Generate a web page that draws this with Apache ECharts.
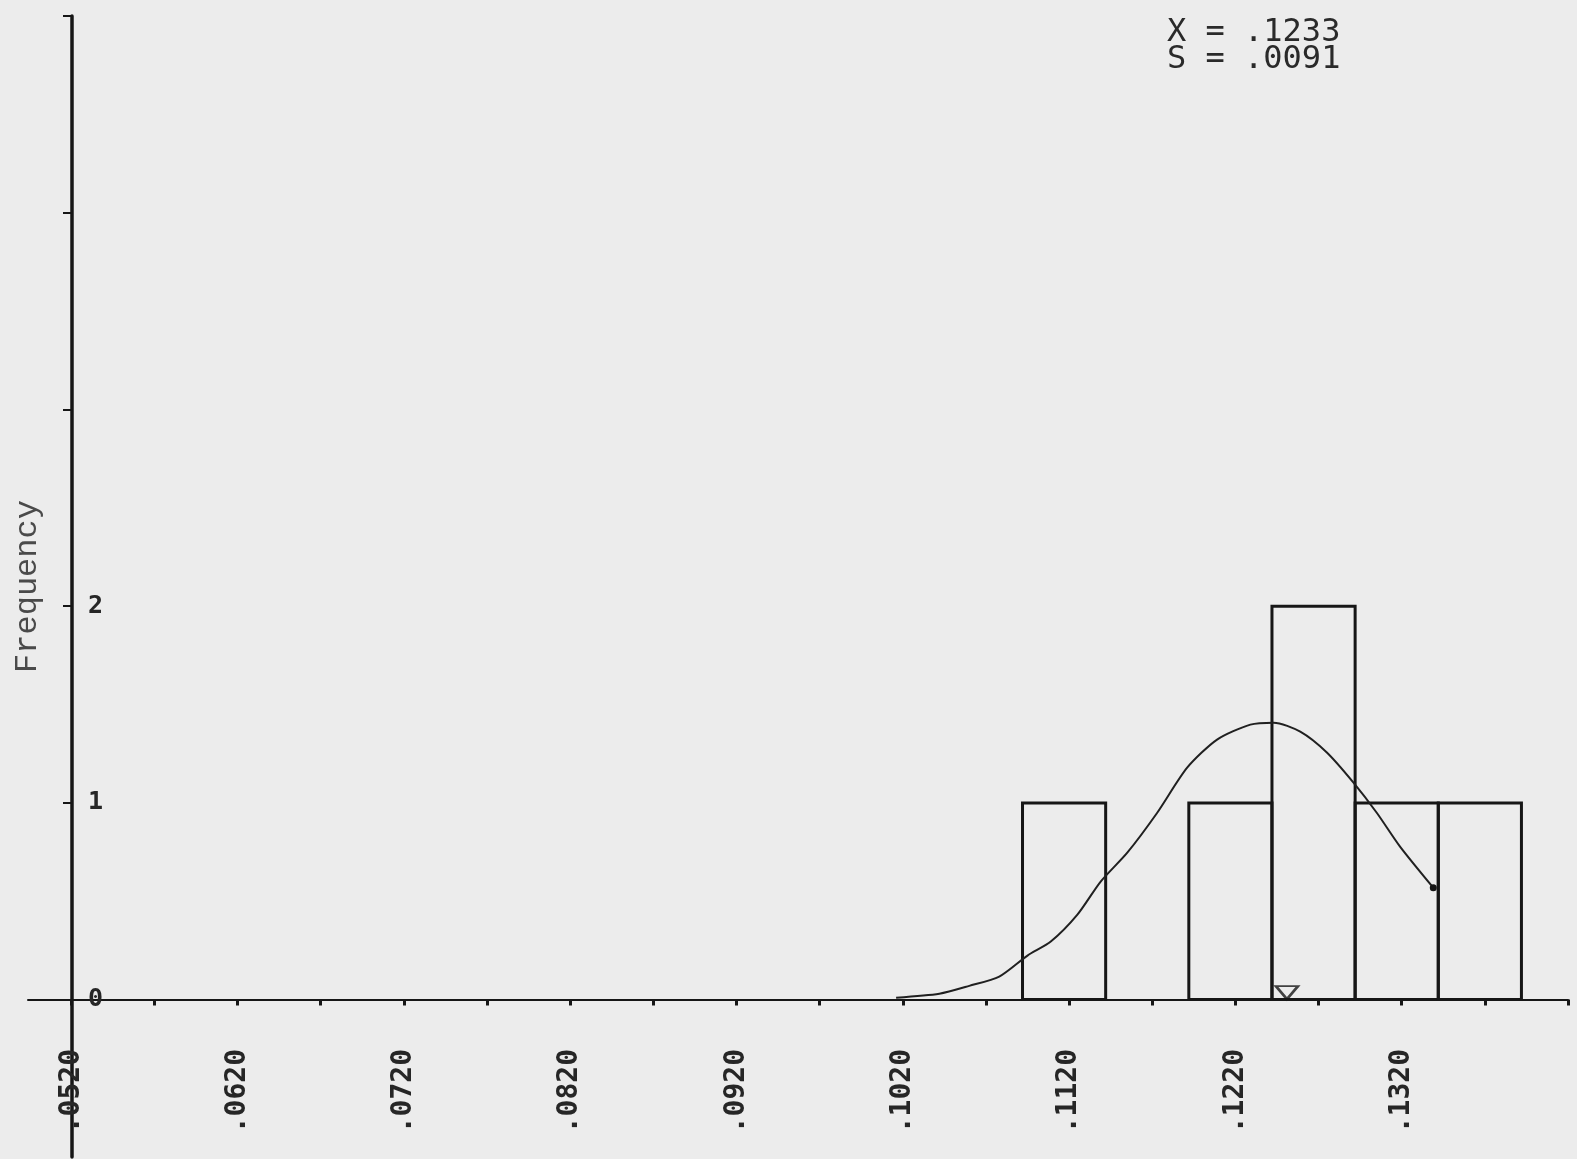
<!DOCTYPE html>
<html>
<head>
<meta charset="utf-8">
<title>Frequency histogram</title>
<script src="https://cdn.jsdelivr.net/npm/echarts@6/dist/echarts.min.js"></script>
<style>
  html, body { margin: 0; padding: 0; background: #ececec; }
  #chart { width: 1577px; height: 1159px; }
</style>
</head>
<body>
<div id="chart"></div>
<script>
// Histogram bins: lower edge of each bin, bin width and counts
const binStarts = [0.1092, 0.1192, 0.1242, 0.1292, 0.1342];
const binWidth = 0.005;
const binCounts = [1, 1, 2, 1, 1];

// Fitted normal curve, sampled along the measurement axis
const curveX = [0.1016, 0.1042, 0.1060, 0.1078, 0.1095, 0.1109, 0.1125, 0.1139, 0.1155, 0.1173,
                0.1191, 0.1209, 0.1229, 0.1243, 0.1259, 0.1275, 0.1291, 0.1305, 0.1319, 0.1339];
const curveY = [0.01, 0.03, 0.07, 0.117, 0.224, 0.295, 0.432, 0.600, 0.747, 0.950,
                1.179, 1.322, 1.398, 1.408, 1.362, 1.256, 1.103, 0.950, 0.778, 0.569];

// Mean marker position on the baseline
const meanMarkerX = 0.1251;

// Axis ticks and labels
const xTickValues = [0.052, 0.057, 0.062, 0.067, 0.072, 0.077, 0.082, 0.087, 0.092, 0.097,
                     0.102, 0.107, 0.112, 0.117, 0.122, 0.127, 0.132, 0.137, 0.142];
const xLabelValues = [0.052, 0.062, 0.072, 0.082, 0.092, 0.102, 0.112, 0.122, 0.132];
const yTickValues = [1, 2, 3, 4, 5];
const yLabelValues = [0, 1, 2];

// Summary statistics
const statLines = ['X = .1233', 'S = .0091'];

const ink = '#161616';
const mono = '"DejaVu Sans Mono", "Liberation Mono", monospace';

const chart = echarts.init(document.getElementById('chart'), null, { renderer: 'canvas' });

const histData = binStarts.map((s, i) => [s, s + binWidth, binCounts[i]]);
const curveData = curveX.map((x, i) => {
  if (i === curveX.length - 1) {
    return { value: [x, curveY[i]], symbol: 'circle', symbolSize: 7 };
  }
  return { value: [x, curveY[i]], symbol: 'none' };
});

chart.setOption({
  backgroundColor: '#ececec',
  animation: false,
  title: {
    text: statLines.join('\n'),
    left: 1162,
    top: 14,
    textStyle: { fontFamily: mono, fontSize: 32, fontWeight: 'normal', color: '#2a2a2a', lineHeight: 27 }
  },
  grid: { left: 28, right: 9, top: 16, bottom: 2, containLabel: false, outerBoundsMode: 'none' },
  xAxis: {
    type: 'value',
    min: 0.0494,
    max: 0.142,
    axisLine: { show: true, onZero: true, lineStyle: { color: ink, width: 2 } },
    axisTick: { show: true, customValues: xTickValues, length: 6, lineStyle: { color: ink, width: 3 } },
    axisLabel: {
      show: true,
      customValues: xLabelValues,
      rotate: 90,
      margin: -108,
      fontFamily: mono,
      fontSize: 28,
      fontWeight: 'bold',
      color: '#262626',
      formatter: v => v.toFixed(4).replace(/^0/, '')
    },
    splitLine: { show: false }
  },
  yAxis: {
    type: 'value',
    min: -0.8,
    max: 5,
    offset: -44,
    name: 'Frequency',
    nameLocation: 'middle',
    nameRotate: 90,
    nameGap: 28,
    nameTextStyle: { fontFamily: '"Liberation Mono", monospace', fontSize: 32, color: '#4a4a4a' },
    axisLine: { show: true, onZero: false, lineStyle: { color: ink, width: 3.5 } },
    axisTick: { show: true, customValues: yTickValues, length: 9, lineStyle: { color: ink, width: 2 } },
    axisLabel: {
      show: true,
      customValues: yLabelValues,
      inside: true,
      margin: 16,
      fontFamily: mono,
      fontSize: 25,
      fontWeight: 'bold',
      color: '#262626',
      padding: [0, 0, 12, 0]
    },
    splitLine: { show: false }
  },
  series: [
    {
      type: 'custom',
      name: 'Histogram',
      data: histData,
      encode: { x: [0, 1], y: 2 },
      renderItem: (params, api) => {
        const p0 = api.coord([api.value(0), api.value(2)]);
        const p1 = api.coord([api.value(1), 0]);
        return {
          type: 'rect',
          shape: { x: p0[0], y: p0[1], width: p1[0] - p0[0], height: p1[1] - p0[1] },
          style: { fill: 'none', stroke: ink, lineWidth: 3 }
        };
      },
      z: 3
    },
    {
      type: 'line',
      name: 'Normal',
      data: curveData,
      smooth: 0.25,
      showSymbol: true,
      itemStyle: { color: ink },
      lineStyle: { color: '#202020', width: 2 },
      z: 4
    },
    {
      type: 'scatter',
      name: 'Mean',
      data: [[meanMarkerX, 0]],
      symbol: 'triangle',
      symbolRotate: 180,
      symbolSize: [22, 13],
      symbolOffset: [0, -7],
      itemStyle: { color: 'rgba(0,0,0,0)', borderColor: ink, borderWidth: 2.5 },
      z: 5
    }
  ]
});
</script>
</body>
</html>
